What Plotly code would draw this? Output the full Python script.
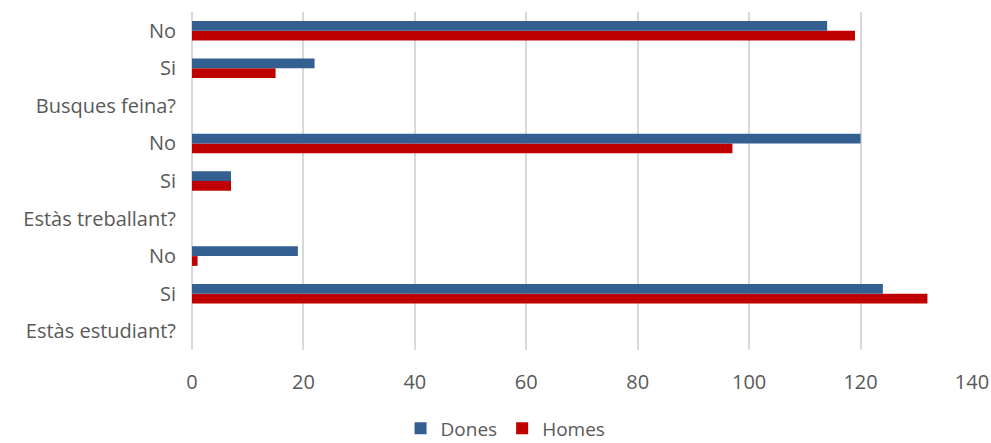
import plotly.graph_objects as go

# categories from bottom to top
cat_ids = ["est_q", "est_si", "est_no", "treb_q", "treb_si", "treb_no", "busq_q", "busq_si", "busq_no"]
cat_labels = ["Estàs estudiant?", "Si", "No", "Estàs treballant?", "Si", "No", "Busques feina?", "Si", "No"]
dones = [None, 124, 19, None, 7, 120, None, 22, 114]
homes = [None, 132, 1, None, 7, 97, None, 15, 119]

BLUE = "#335f91"
RED = "#c00000"
TXT = "#595959"
FONT = "Open Sans"
FS = 20

fig = go.Figure()
fig.add_trace(go.Bar(y=cat_ids, x=homes, name="Homes", orientation="h",
                     marker=dict(color=RED, line=dict(width=0))))
fig.add_trace(go.Bar(y=cat_ids, x=dones, name="Dones", orientation="h",
                     marker=dict(color=BLUE, line=dict(width=0))))

fig.update_layout(
    width=991, height=443,
    margin=dict(l=192, r=19, t=12, b=93, autoexpand=False),
    paper_bgcolor="white", plot_bgcolor="white",
    barmode="group", bargap=0.48, bargroupgap=0,
    font=dict(family=FONT, size=FS, color=TXT),
    showlegend=True,
    legend=dict(orientation="h", x=0.402, xanchor="center", y=-0.232, yanchor="middle",
                traceorder="reversed", font=dict(size=19, color=TXT),
                itemwidth=30, tracegroupgap=0),
    xaxis=dict(range=[0, 140], dtick=20, showgrid=True, gridcolor="#d9d9d9", gridwidth=1.5,
               zeroline=True, zerolinecolor="#d9d9d9", zerolinewidth=1.5,
               showline=False, ticks="", tickfont=dict(size=FS, color=TXT), ticklabelstandoff=18),
    yaxis=dict(type="category", categoryorder="array", categoryarray=cat_ids,
               tickmode="array", tickvals=cat_ids, ticktext=cat_labels,
               showgrid=False, showline=False, ticks="", ticklabelstandoff=15,
               tickfont=dict(size=FS, color=TXT)),
)

fig.write_html("out.html")
